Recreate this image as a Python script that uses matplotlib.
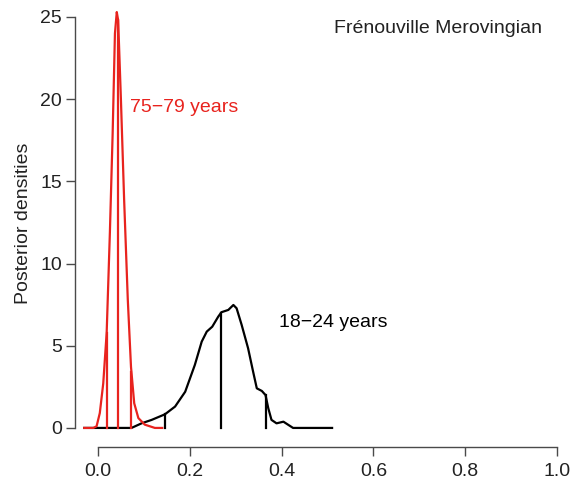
import numpy as np
import matplotlib
matplotlib.use("Agg")
import matplotlib.pyplot as plt

plt.rcParams['font.family'] = ['Liberation Sans', 'DejaVu Sans']

# Red density (75-79 years)
red_x = [-0.03, -0.01, -0.003, 0.004, 0.0115, 0.019, 0.026, 0.032, 0.037, 0.041, 0.044,
         0.050, 0.057, 0.065, 0.072, 0.079, 0.088, 0.102, 0.124, 0.14]
red_y = [0.0, 0.0, 0.1, 0.9, 2.7, 5.8, 11.9, 17.9, 24.0, 25.3, 24.8,
         20.0, 13.9, 7.8, 3.7, 1.5, 0.6, 0.2, 0.0, 0.0]
red_q = [0.019, 0.044, 0.073]

# Black density (18-24 years)
blk_x = [-0.03, 0.073, 0.095, 0.117, 0.146, 0.168, 0.19, 0.211, 0.226, 0.237, 0.249,
         0.262, 0.269, 0.284, 0.295, 0.302, 0.313, 0.327, 0.338, 0.346, 0.357, 0.365,
         0.371, 0.378, 0.389, 0.404, 0.415, 0.425, 0.51]
blk_y = [0.0, 0.0, 0.28, 0.49, 0.83, 1.3, 2.2, 3.83, 5.25, 5.86, 6.16,
         6.77, 7.04, 7.18, 7.48, 7.28, 6.27, 4.85, 3.42, 2.41, 2.25, 2.0,
         1.2, 0.49, 0.28, 0.38, 0.18, 0.0, 0.0]
blk_q = [0.146, 0.268, 0.365]

x_ticks = [0.0, 0.2, 0.4, 0.6, 0.8, 1.0]
y_ticks = [0, 5, 10, 15, 20, 25]

red = '#e8231e'
gray = '#4a4a4a'

fig = plt.figure(figsize=(5.79, 4.82), dpi=100)
ax = fig.add_axes([75/579, 35/482, (575.4-75)/579, (447-0.56)/482])
ax.set_xlim(-0.05, 1.04)
ax.set_ylim(-1.16, 26)

ax.plot(blk_x, blk_y, color='black', lw=1.6, solid_joinstyle='round')
ax.plot(red_x, red_y, color=red, lw=1.6, solid_joinstyle='round')
for q in blk_q:
    ax.plot([q, q], [0, np.interp(q, blk_x, blk_y)], color='black', lw=1.6)
for q in red_q:
    ax.plot([q, q], [0, np.interp(q, red_x, red_y)], color=red, lw=1.6)

for s in ['top', 'right']:
    ax.spines[s].set_visible(False)
ax.spines['left'].set_bounds(0, 25)
ax.spines['bottom'].set_bounds(0, 1)
for s in ['left', 'bottom']:
    ax.spines[s].set_color(gray)
    ax.spines[s].set_linewidth(1.0)
ax.set_xticks(x_ticks)
ax.set_xticklabels(['0.0', '0.2', '0.4', '0.6', '0.8', '1.0'])
ax.set_yticks(y_ticks)
ax.tick_params(axis='both', colors=gray, labelcolor='#222222', labelsize=14, length=6.5, width=1.0)
ax.tick_params(axis='y', pad=3)
ax.tick_params(axis='x', pad=5)

ax.set_ylabel('Posterior densities', fontsize=14, color='#222222', labelpad=6)

ax.text(0.07, 19.5, '75\u221279 years', color=red, fontsize=14, va='center', ha='left')
ax.text(0.395, 6.4, '18\u221224 years', color='black', fontsize=14, va='center', ha='left')
ax.text(0.74, 24.3, 'Frénouville Merovingian', color='#222222', fontsize=14, va='center', ha='center')

fig.savefig('out.png', dpi=100)
